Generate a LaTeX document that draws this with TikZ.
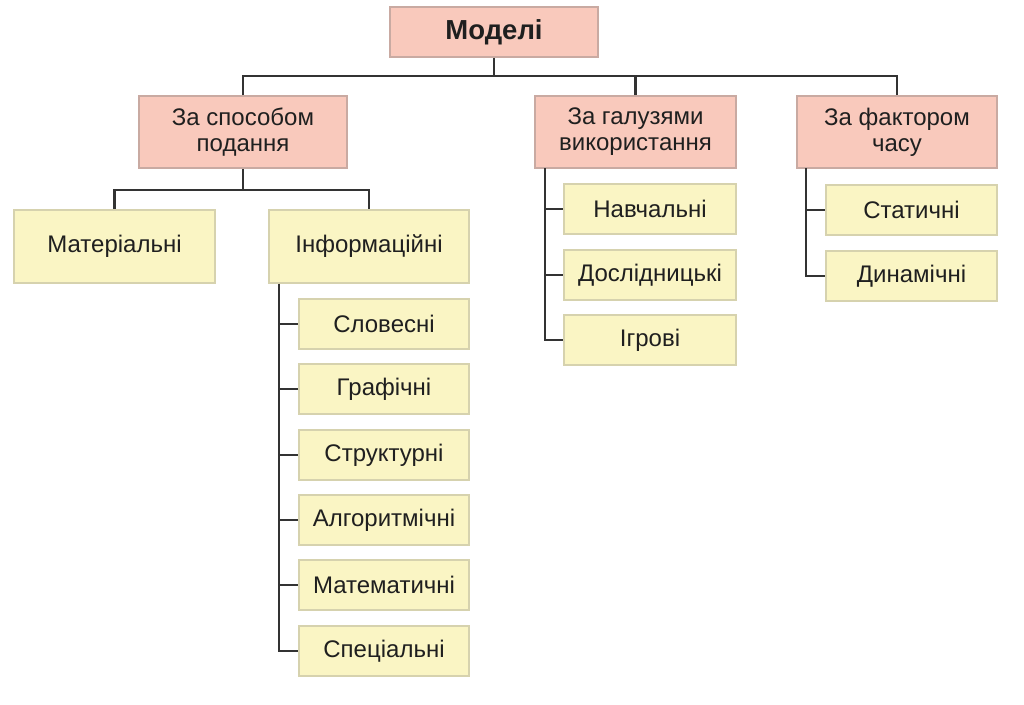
\documentclass[tikz,border=0pt]{standalone}
\usepackage{fontspec}
\setmainfont{Liberation Sans}
\definecolor{pinkfill}{HTML}{F9C9BC}
\definecolor{pinkdraw}{HTML}{C9AAA2}
\definecolor{yelfill}{HTML}{FAF5C4}
\definecolor{yeldraw}{HTML}{D6D2AE}
\definecolor{linecol}{HTML}{333333}
\tikzset{
  pinkbox/.style={draw=pinkdraw, fill=pinkfill, line width=1.8pt, align=center, inner sep=0pt, font=\fontsize{24}{26}\selectfont, text=black!88},
  yelbox/.style={draw=yeldraw, fill=yelfill, line width=1.8pt, align=center, inner sep=0pt, font=\fontsize{24}{26}\selectfont, text=black!88},
  conn/.style={draw=linecol, line width=2.4pt},
}
\begin{document}
\begin{tikzpicture}[x=1pt,y=-1pt]
\useasboundingbox (0,0) rectangle (1024,704);
% nodes
\node[pinkbox, minimum width=208pt, minimum height=50pt, font=\fontsize{27.5}{30}\selectfont\bfseries] (root) at (494,32) {Моделі};
\node[pinkbox, minimum width=208pt, minimum height=72pt] (sp) at (243,132) {За способом\\подання};
\node[pinkbox, minimum width=201pt, minimum height=72pt] (gal) at (635.5,132) {За галузями\\використання};
\node[pinkbox, minimum width=200pt, minimum height=72pt] (fak) at (897,132) {За фактором\\часу};

\node[yelbox, minimum width=201pt, minimum height=73pt] (mat) at (114.5,246.5) {Матеріальні};
\node[yelbox, minimum width=200pt, minimum height=73pt] (inf) at (369,246.5) {Інформаційні};

\node[yelbox, minimum width=170pt, minimum height=50pt] (i1) at (384,324) {Словесні};
\node[yelbox, minimum width=170pt, minimum height=50pt] (i2) at (384,389) {Графічні};
\node[yelbox, minimum width=170pt, minimum height=50pt] (i3) at (384,455) {Структурні};
\node[yelbox, minimum width=170pt, minimum height=50pt] (i4) at (384,520) {Алгоритмічні};
\node[yelbox, minimum width=170pt, minimum height=50pt] (i5) at (384,585) {Математичні};
\node[yelbox, minimum width=170pt, minimum height=50pt] (i6) at (384,651) {Спеціальні};

\node[yelbox, minimum width=172pt, minimum height=50pt] (g1) at (650,209) {Навчальні};
\node[yelbox, minimum width=172pt, minimum height=50pt] (g2) at (650,275) {Дослідницькі};
\node[yelbox, minimum width=172pt, minimum height=50pt] (g3) at (650,340) {Ігрові};

\node[yelbox, minimum width=171pt, minimum height=50pt] (f1) at (911.5,210) {Статичні};
\node[yelbox, minimum width=171pt, minimum height=50pt] (f2) at (911.5,276) {Динамічні};

% connectors
\draw[conn] (root.south) -- (494,76);
\draw[conn] (sp.north) |- (fak.north |- 0,76) -- (fak.north);
\draw[conn] (gal.north) -- (gal.north |- 0,76);
\draw[conn] (sp.south) -- (243,190);
\draw[conn] (mat.north) |- (inf.north |- 0,190) -- (inf.north);
\draw[conn] (279,283.5) |- (i6.west);
\foreach \n in {i1,i2,i3,i4,i5} \draw[conn] (279,0 |- \n.west) -- (\n.west);
\draw[conn] (545,168) |- (g3.west);
\foreach \n in {g1,g2} \draw[conn] (545,0 |- \n.west) -- (\n.west);
\draw[conn] (806,168) |- (f2.west);
\draw[conn] (806,0 |- f1.west) -- (f1.west);
\end{tikzpicture}
\end{document}
